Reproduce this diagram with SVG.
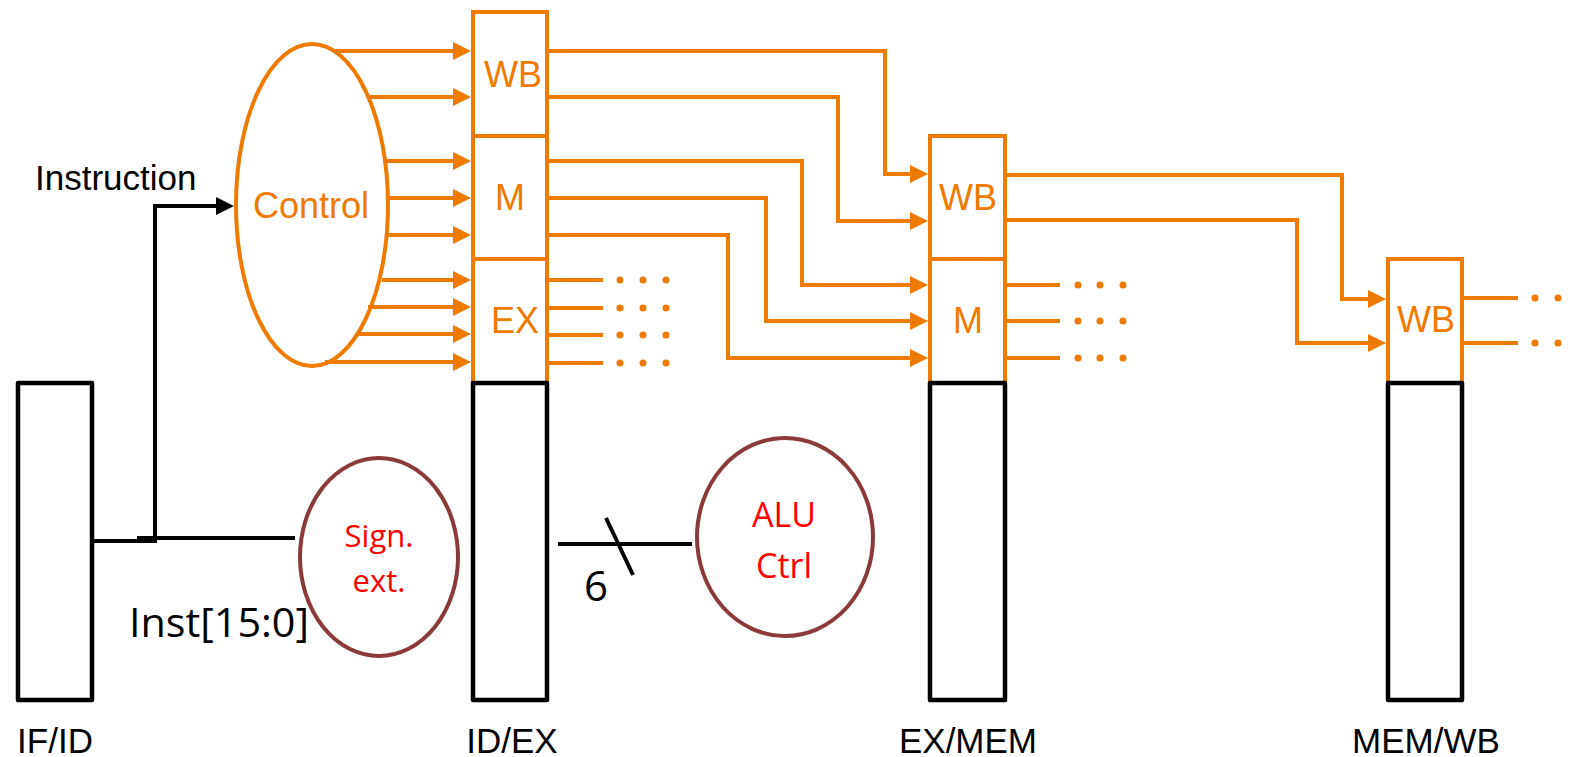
<svg xmlns="http://www.w3.org/2000/svg" width="1571" height="757" viewBox="0 0 1571 757">
<style>
.or{fill:none;stroke:#EE7A00;stroke-width:4;stroke-linejoin:miter}
.bk{fill:none;stroke:#000;stroke-width:4.5;stroke-linejoin:round}
.bl{fill:none;stroke:#000;stroke-width:4}
.br{fill:#fff;stroke:#8B3A3A;stroke-width:4}
.ot{font-family:"Liberation Sans",Arial,sans-serif;font-size:36px;fill:#EE7A00;text-anchor:middle}
.lb{font-family:"Liberation Sans",Arial,sans-serif;font-size:35px;fill:#000;text-anchor:middle}
.rt{font-family:"Open Sans","Noto Sans",sans-serif;fill:#FF0000;text-anchor:middle}
.ct{font-family:"Open Sans","Noto Sans",sans-serif;fill:#000}
.dot{fill:#EE7A00}
</style>
<defs>
<marker id="ao" markerUnits="userSpaceOnUse" markerWidth="18" markerHeight="18" refX="10" refY="9" orient="auto">
<path d="M0,0 L18,9 L0,18 z" fill="#EE7A00"/>
</marker>
<marker id="ab" markerUnits="userSpaceOnUse" markerWidth="18" markerHeight="18" refX="10" refY="9" orient="auto">
<path d="M0,0 L18,9 L0,18 z" fill="#000"/>
</marker>
</defs>

<g id="connectors">
<!-- Control to ID/EX -->
<path class="or" d="M333,51 H463" marker-end="url(#ao)"/>
<path class="or" d="M370,97 H463" marker-end="url(#ao)"/>
<path class="or" d="M387,161 H463" marker-end="url(#ao)"/>
<path class="or" d="M389,198 H463" marker-end="url(#ao)"/>
<path class="or" d="M388,235 H463" marker-end="url(#ao)"/>
<path class="or" d="M382,280 H463" marker-end="url(#ao)"/>
<path class="or" d="M368,307 H463" marker-end="url(#ao)"/>
<path class="or" d="M358,334 H463" marker-end="url(#ao)"/>
<path class="or" d="M325,362 H463" marker-end="url(#ao)"/>
<!-- ID/EX to EX/MEM -->
<path class="or" d="M547,51 H885 V174 H920" marker-end="url(#ao)"/>
<path class="or" d="M547,97 H838 V221 H920" marker-end="url(#ao)"/>
<path class="or" d="M547,161 H802 V285 H920" marker-end="url(#ao)"/>
<path class="or" d="M547,198 H766 V321 H920" marker-end="url(#ao)"/>
<path class="or" d="M547,235 H728 V358 H920" marker-end="url(#ao)"/>
<!-- EX stubs -->
<path class="or" d="M547,280 H603 M547,308 H603 M547,335 H603 M547,363 H603"/>
<g class="dot">
<circle cx="620" cy="280" r="3.5"/><circle cx="643" cy="280" r="3.5"/><circle cx="666" cy="280" r="3.5"/>
<circle cx="620" cy="308" r="3.5"/><circle cx="643" cy="308" r="3.5"/><circle cx="666" cy="308" r="3.5"/>
<circle cx="620" cy="335" r="3.5"/><circle cx="643" cy="335" r="3.5"/><circle cx="666" cy="335" r="3.5"/>
<circle cx="620" cy="363" r="3.5"/><circle cx="643" cy="363" r="3.5"/><circle cx="666" cy="363" r="3.5"/>
</g>
<!-- EX/MEM to MEM/WB -->
<path class="or" d="M1005,175 H1342 V299 H1378" marker-end="url(#ao)"/>
<path class="or" d="M1005,220 H1297 V343 H1378" marker-end="url(#ao)"/>
<!-- EX/MEM M stubs -->
<path class="or" d="M1005,285 H1060 M1005,321 H1060 M1005,358 H1060"/>
<g class="dot">
<circle cx="1078" cy="285" r="3.5"/><circle cx="1100" cy="285" r="3.5"/><circle cx="1123" cy="285" r="3.5"/>
<circle cx="1078" cy="321" r="3.5"/><circle cx="1100" cy="321" r="3.5"/><circle cx="1123" cy="321" r="3.5"/>
<circle cx="1078" cy="358" r="3.5"/><circle cx="1100" cy="358" r="3.5"/><circle cx="1123" cy="358" r="3.5"/>
</g>
<!-- MEM/WB stubs -->
<path class="or" d="M1462,298 H1518 M1462,343 H1518"/>
<g class="dot">
<circle cx="1535" cy="298" r="3.5"/><circle cx="1558" cy="298" r="3.5"/>
<circle cx="1535" cy="343" r="3.5"/><circle cx="1558" cy="343" r="3.5"/>
</g>
<!-- Instruction path -->
<path class="bl" d="M92,541 H157"/>
<path class="bl" d="M137,538 H295"/>
<path class="bl" d="M155,540 V206 H226" marker-end="url(#ab)"/>
<!-- to ALU ctrl -->
<path class="bl" d="M558,544 H692"/>
<path class="bl" d="M606,518 L633,575"/>
</g>

<g id="control">
<ellipse cx="312" cy="205" rx="76" ry="161" fill="none" stroke="#EE7A00" stroke-width="4"/>
<text class="ot" x="311" y="218">Control</text>
</g>

<g id="ifid">
<rect class="bk" x="18" y="383" width="74" height="317"/>
<text class="lb" x="55" y="753">IF/ID</text>
</g>

<g id="idex">
<rect class="or" x="473" y="12" width="74" height="124"/>
<rect class="or" x="473" y="136" width="74" height="123"/>
<rect class="or" x="473" y="259" width="74" height="124"/>
<rect class="bk" x="473" y="383" width="74" height="317"/>
<text class="ot" x="513" y="87">WB</text>
<text class="ot" x="510" y="210">M</text>
<text class="ot" x="515" y="333">EX</text>
<text class="lb" x="512" y="753">ID/EX</text>
</g>

<g id="exmem">
<rect class="or" x="930" y="136" width="75" height="123"/>
<rect class="or" x="930" y="259" width="75" height="124"/>
<rect class="bk" x="930" y="383" width="75" height="317"/>
<text class="ot" x="968" y="210">WB</text>
<text class="ot" x="968" y="333">M</text>
<text class="lb" x="968" y="753">EX/MEM</text>
</g>

<g id="memwb">
<rect class="or" x="1388" y="259" width="74" height="124"/>
<rect class="bk" x="1388" y="383" width="74" height="317"/>
<text class="ot" x="1426" y="332">WB</text>
<text class="lb" x="1426" y="753">MEM/WB</text>
</g>

<g id="signext">
<ellipse class="br" cx="379" cy="557" rx="79" ry="99"/>
<text class="rt" x="379" y="547" font-size="31">Sign.</text>
<text class="rt" x="379" y="592" font-size="31">ext.</text>
</g>

<g id="aluctrl">
<ellipse class="br" cx="785" cy="537" rx="88" ry="99"/>
<text class="rt" x="784" y="527" font-size="34">ALU</text>
<text class="rt" x="784" y="578" font-size="34">Ctrl</text>
</g>

<g id="labels">
<text class="ct" x="35" y="190" font-family="Liberation Sans, Arial, sans-serif" font-size="35" style="font-family:'Liberation Sans',Arial,sans-serif">Instruction</text>
<text class="ct" x="129" y="637" font-size="41" textLength="180" lengthAdjust="spacingAndGlyphs">Inst[15:0]</text>
<text class="ct" x="584" y="601" font-size="42">6</text>
</g>
</svg>
